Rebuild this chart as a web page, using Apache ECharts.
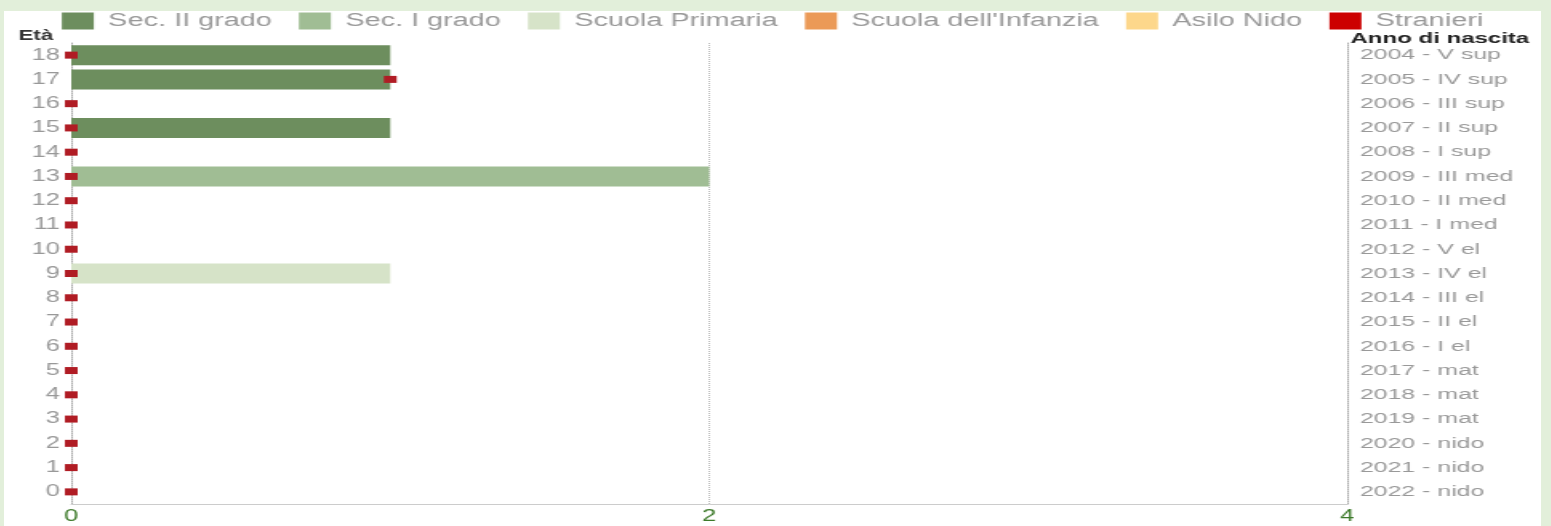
<!DOCTYPE html>
<html>
<head>
<meta charset="utf-8">
<script src="https://cdn.jsdelivr.net/npm/echarts@6/dist/echarts.min.js"></script>
<style>
  html, body { margin: 0; padding: 0; background: #e2efda; width: 1551px; height: 526px; overflow: hidden; }
  #wrap { position: absolute; left: 4px; top: 11px; width: 1537px; height: 515px; background: #ffffff; overflow: hidden; }
  #chart { width: 960px; height: 515px; transform: scaleX(1.601); transform-origin: 0 0; }
</style>
</head>
<body>
<div id="wrap"><div id="chart"></div></div>
<script>
// Categories (age), bottom to top
const ages = ['0','1','2','3','4','5','6','7','8','9','10','11','12','13','14','15','16','17','18'];
const birthLabels = ['2022 - nido','2021 - nido','2020 - nido','2019 - mat','2018 - mat','2017 - mat',
  '2016 - I el','2015 - II el','2014 - III el','2013 - IV el','2012 - V el','2011 - I med',
  '2010 - II med','2009 - III med','2008 - I sup','2007 - II sup','2006 - III sup','2005 - IV sup','2004 - V sup'];
const xTicks = [0, 2, 4];

// Series values per age 0..18
const secII     = [0,0,0,0,0,0,0,0,0,0,0,0,0,0,0,1,0,1,1];
const secI      = [0,0,0,0,0,0,0,0,0,0,0,0,0,2,0,0,0,0,0];
const primaria  = [0,0,0,0,0,0,0,0,0,1,0,0,0,0,0,0,0,0,0];
const infanzia  = [0,0,0,0,0,0,0,0,0,0,0,0,0,0,0,0,0,0,0];
const nido      = [0,0,0,0,0,0,0,0,0,0,0,0,0,0,0,0,0,0,0];
const stranieri = [0,0,0,0,0,0,0,0,0,0,0,0,0,0,0,0,0,1,0];

const names = ['Sec. II grado','Sec. I grado','Scuola Primaria',"Scuola dell'Infanzia",'Asilo Nido','Stranieri'];
const colors = ['#6d8e5e','#a0bd94','#d6e3c8','#eb9a57','#fdd78b','#cc0000'];

const chart = echarts.init(document.getElementById('chart'), null, { renderer: 'canvas' });
const font = 'Liberation Sans, Arial, sans-serif';

function barSeries(name, data, color) {
  return {
    name: name, type: 'bar', stack: 'tot', data: data, barWidth: 20,
    yAxisIndex: 0, itemStyle: { color: color }, silent: true
  };
}

chart.setOption({
  animation: false,
  textStyle: { fontFamily: font },
  legend: {
    left: 'center', top: 1, padding: 0, itemWidth: 20, itemHeight: 17, itemGap: 17,
    textStyle: { fontSize: 18, color: '#999', fontFamily: font, padding: [0, 0, 0, 4] },
    data: names.map((n, i) => ({ name: n, icon: 'rect', itemStyle: { color: colors[i] } }))
  },
  grid: { left: 42, right: 121, top: 32, bottom: 22 },
  xAxis: {
    type: 'value', min: xTicks[0], max: xTicks[xTicks.length - 1], interval: 2,
    axisLine: { show: true, lineStyle: { color: '#ccc', width: 1 } },
    axisTick: { show: false },
    axisLabel: { color: '#3d7a2a', fontSize: 16, margin: 5, fontFamily: font },
    splitLine: { show: true, lineStyle: { color: '#bbb', type: 'dotted', width: 1 } }
  },
  yAxis: [
    {
      type: 'category', data: ages, position: 'left',
      axisLine: { show: true, lineStyle: { color: '#aaa', type: 'dotted', width: 1 } },
      axisTick: { show: false },
      axisLabel: { color: '#999', fontSize: 16, margin: 7, fontFamily: font },
      splitLine: { show: false }
    },
    {
      type: 'category', data: birthLabels, position: 'right',
      axisLine: { show: true, onZero: false, lineStyle: { color: '#aaa', type: 'dotted', width: 1 } },
      axisTick: { show: false },
      axisLabel: { color: '#999', fontSize: 15.5, margin: 8, fontFamily: font },
      splitLine: { show: false }
    }
  ],
  graphic: [
    { type: 'text', left: 9, top: 18, style: { text: 'Età', fontSize: 14, fontWeight: 'bold', fill: '#333', fontFamily: font } },
    { type: 'text', left: 841, top: 20, style: { text: 'Anno di nascita', fontSize: 15, fontWeight: 'bold', fill: '#222', fontFamily: font } }
  ],
  series: [
    barSeries(names[0], secII, colors[0]),
    barSeries(names[1], secI, colors[1]),
    barSeries(names[2], primaria, colors[2]),
    barSeries(names[3], infanzia, colors[3]),
    barSeries(names[4], nido, colors[4]),
    {
      name: names[5], type: 'scatter', yAxisIndex: 0, symbol: 'rect', symbolSize: [8, 7],
      itemStyle: { color: '#b01c24', opacity: 1 }, z: 5, silent: true,
      data: stranieri.map((v, i) => [v, ages[i]])
    }
  ]
});
</script>
</body>
</html>
